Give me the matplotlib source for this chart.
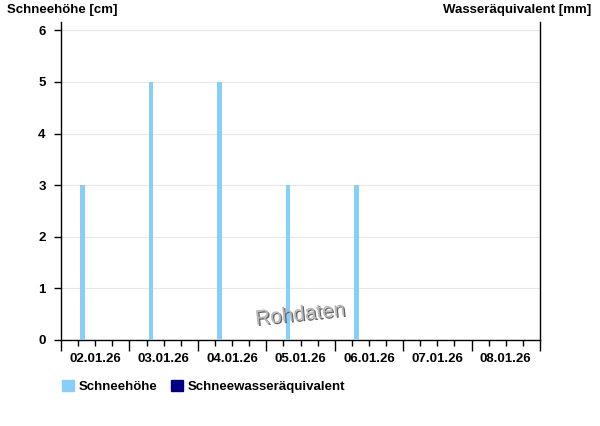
import datetime as dt
import matplotlib
matplotlib.use("Agg")
import matplotlib.pyplot as plt
import matplotlib.dates as mdates
import matplotlib.patheffects as pe
from matplotlib.patches import Patch

plt.rcParams['font.family'] = ['Liberation Sans', 'DejaVu Sans']

# data
days = [dt.datetime(2026, 1, d) for d in (2, 3, 4, 5, 6)]
snow_cm = [3, 5, 5, 3, 3]
swe_mm = []  # no water-equivalent values shown
bar_offset_h = 7.6   # bars sit a bit after midnight each day
bar_width_d = 0.07

c_snow = "#87cefa"
c_swe = "#000080"

fig = plt.figure(figsize=(6, 4.26), dpi=100)
ax = fig.add_axes([61/600, 86/426, 479/600, 318/426])

x = [d + dt.timedelta(hours=bar_offset_h) for d in days]
ax.bar(x, snow_cm, width=bar_width_d, color=c_snow, zorder=3)

ax.set_xlim(dt.datetime(2026, 1, 2), dt.datetime(2026, 1, 9))
ax.set_ylim(0, 6.16)
ax.set_yticks(range(0, 7))
ax.grid(axis='y', color='#e8e8e8', lw=0.8, zorder=0)

ax.xaxis.set_major_locator(mdates.DayLocator())
ax.xaxis.set_minor_locator(mdates.HourLocator(byhour=[6, 12, 18]))
ax.xaxis.set_major_formatter(plt.NullFormatter())
ax.tick_params(axis='x', which='major', length=8, width=1)
ax.tick_params(axis='x', which='minor', length=4, width=1)
ax.tick_params(axis='y', length=5, width=1, labelsize=9.5, pad=6)
for lab in ax.get_yticklabels():
    lab.set_fontweight('bold')

# date labels centred at noon
for d in range(2, 9):
    ax.text(dt.datetime(2026, 1, d, 12), -0.26, f"{d:02d}.01.26",
            ha='center', va='top', fontsize=9.5, fontweight='bold')

ax.spines['top'].set_visible(False)
for s in ('bottom', 'left', 'right'):
    ax.spines[s].set_linewidth(1)

fig.text(7/600, 1 - 10/426, "Schneehöhe [cm]", ha='left', va='center',
         fontsize=9.5, fontweight='bold')
fig.text(591/600, 1 - 10/426, "Wasseräquivalent [mm]", ha='right', va='center',
         fontsize=9.5, fontweight='bold')

# watermark
ax.text(0.5, 0.08, "Rohdaten", transform=ax.transAxes, ha='center', va='center',
        fontsize=15, color='#b8b8b8', rotation=6, zorder=5,
        path_effects=[pe.withSimplePatchShadow(offset=(1, -1), shadow_rgbFace='#555555', alpha=0.9)])

handles = [Patch(color=c_snow, label="Schneehöhe"),
           Patch(color=c_swe, label="Schneewasseräquivalent")]
fig.legend(handles=handles, loc='upper left', bbox_to_anchor=(50/600, 1 - 368/426),
           ncol=2, frameon=False, handlelength=0.9, handleheight=0.9,
           handletextpad=0.4, columnspacing=1.0, prop={'size': 9.5, 'weight': 'bold'})

fig.savefig("out.png", dpi=100)
